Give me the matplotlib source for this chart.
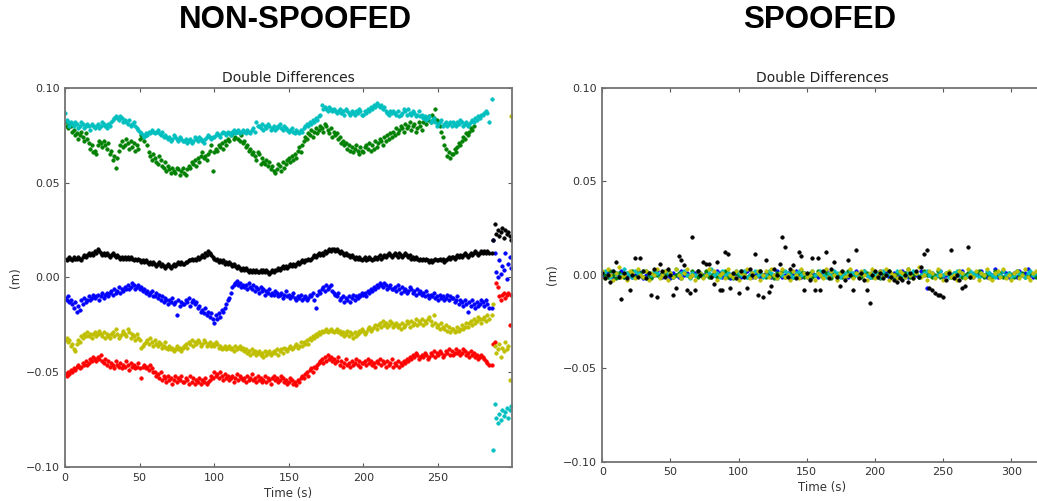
import numpy as np
import matplotlib
matplotlib.use("Agg")
import matplotlib.pyplot as plt

nan = np.nan

# ============================================================
# Non-spoofed double differences (mm), one value per second up to 284 s,
# then the points after the jump at ~286 s
# ============================================================
t_main = np.arange(0, 285)
t_tail = np.arange(286, 300)

ns_blue = [-11, -12, -10, -13, -12, -14, -16, -13, -18, -15, -17, -12, -14, -11, -13, -12, -10, -12, -11, -9,
           -11, -10, -9, -12, -10, -8, -11, -9, -8, -10, -8, -7, -9, -6, -8, -7, -5, -8, -6, -7,
           -5, -6, -4, -6, -5, -3, -4, -6, -5, -4, -6, -5, -7, -6, -8, -7, -9, -8, -7, -10,
           -10, -8, -11, -9, -12, -10, -13, -11, -12, -14, -12, -13, -11, -14, -13, -20, -12, -15, -13, -14,
           -14, -12, -13, -11, -15, -13, -12, -14, -13, -16, -15, -18, -17, -19, -16, -20, -18, -21, -19, -22,
           -24, -20, -22, -19, -21, -17, -18, -16, -14, -12, -11, -8, -5, -4, -3, -2, -4, -3, -5, -4,
           -5, -4, -6, -3, -5, -6, -4, -7, -5, -6, -8, -5, -7, -6, -9, -7, -8, -6, -9, -8,
           -9, -7, -8, -10, -9, -8, -11, -9, -7, -10, -9, -11, -10, -8, -11, -12, -10, -11, -9, -12,
           -11, -10, -12, -11, -9, -10, -8, -12, -16, -9, -7, -8, -6, -5, -7, -4, -6, -5, -4, -7,
           -8, -9, -10, -8, -12, -11, -10, -13, -11, -12, -10, -13, -11, -9, -12, -10, -11, -9, -10, -8,
           -9, -8, -10, -7, -8, -6, -7, -5, -6, -4, -5, -3, -4, -5, -3, -4, -6, -5, -4, -6,
           -6, -5, -7, -4, -6, -8, -5, -7, -6, -8, -7, -5, -6, -8, -7, -9, -6, -8, -7, -9,
           -8, -10, -7, -9, -11, -9, -10, -8, -11, -10, -12, -9, -11, -10, -12, -11, -9, -12, -10, -11,
           -11, -13, -12, -10, -14, -12, -13, -15, -12, -14, -18, -13, -15, -12, -14, -16, -13, -15, -14, -12,
           -13, -15, -12, -14, -16]
ns_blue_tail = [-16, 20, 13, 3, 0, 9, 2, 6, 4, 13, -1, 7, 11, 5]

ns_green = [82, 80, 79, 81, 80, 77, 78, 75, 76, 73, 75, 77, 74, 72, 76, 73, 71, 68, 70, 66,
            67, 65, 70, 72, 71, 69, 72, 70, 68, 71, 65, 67, 62, 64, 58, 63, 67, 70, 72, 69,
            70, 73, 71, 68, 72, 69, 71, 67, 70, 68, 73, 75, 74, 72, 75, 70, 66, 64, 62, 65,
            63, 61, 60, 64, 62, 59, 58, 61, 56, 59, 57, 55, 58, 56, 55, 58, 57, 54, 56, 58,
            55, 54, 57, 59, 58, 61, 60, 62, 59, 63, 61, 64, 66, 63, 64, 62, 65, 67, 70, 56,
            66, 68, 67, 70, 69, 71, 68, 72, 70, 73, 72, 75, 76, 73, 74, 77, 73, 72, 75, 71,
            72, 69, 70, 67, 68, 65, 66, 64, 62, 66, 65, 60, 63, 61, 60, 62, 59, 61, 57, 59,
            56, 55, 57, 60, 59, 56, 61, 58, 60, 62, 63, 61, 64, 62, 65, 63, 67, 69, 66, 70,
            72, 74, 73, 76, 75, 78, 74, 77, 79, 76, 78, 80, 79, 77, 81, 80, 78, 76, 79, 74,
            77, 75, 76, 73, 74, 71, 72, 70, 71, 68, 70, 67, 69, 66, 68, 70, 67, 65, 69, 67,
            66, 69, 70, 68, 71, 67, 70, 68, 72, 69, 71, 73, 72, 70, 74, 72, 75, 73, 76, 74,
            77, 75, 79, 76, 78, 80, 79, 77, 81, 79, 80, 82, 78, 80, 81, 77, 79, 82, 80, 78,
            82, 84, 81, 83, 85, 82, 86, 84, 89, 83, 82, 80, 77, 74, 70, 68, 64, 66, 63, 65,
            65, 68, 66, 69, 71, 70, 72, 74, 73, 76, 75, 77, 79, 78, 80, nan, nan, nan, nan, nan,
            nan, nan, nan, nan, nan]
ns_green_tail = [nan] * 14

ns_red = [-51, -52, -50, -51, -49, -50, -48, -49, -47, -46, -48, -47, -45, -46, -44, -46, -45, -43, -44, -42,
          -43, -44, -42, -43, -41, -44, -45, -43, -46, -44, -47, -45, -46, -48, -44, -46, -47, -45, -48, -46,
          -47, -44, -46, -49, -45, -47, -46, -48, -47, -45, -48, -53, -47, -46, -48, -47, -49, -46, -48, -50,
          -50, -52, -51, -53, -50, -54, -52, -53, -55, -52, -54, -53, -56, -54, -52, -55, -53, -54, -52, -55,
          -55, -53, -54, -56, -52, -55, -53, -56, -54, -55, -53, -56, -54, -55, -53, -56, -55, -54, -52, -53,
          -50, -52, -51, -53, -50, -52, -54, -51, -53, -52, -54, -53, -52, -55, -53, -51, -54, -52, -53, -54,
          -53, -55, -52, -54, -53, -51, -54, -53, -55, -52, -54, -53, -55, -54, -52, -55, -53, -54, -56, -53,
          -52, -54, -53, -55, -54, -52, -53, -55, -54, -56, -55, -53, -54, -56, -55, -57, -54, -55, -53, -52,
          -53, -51, -50, -52, -49, -48, -50, -47, -48, -46, -45, -44, -43, -45, -42, -44, -41, -43, -42, -44,
          -43, -45, -44, -42, -46, -44, -47, -45, -43, -46, -45, -47, -44, -46, -45, -43, -46, -44, -47, -45,
          -45, -44, -46, -43, -45, -44, -46, -45, -47, -44, -45, -43, -46, -44, -45, -47, -44, -46, -45, -43,
          -47, -45, -46, -44, -47, -45, -46, -44, -45, -43, -44, -42, -43, -41, -42, -40, -41, -43, -42, -41,
          -42, -40, -41, -43, -42, -40, -41, -39, -42, -40, -41, -39, -40, -42, -41, -39, -40, -38, -41, -39,
          -41, -40, -38, -40, -39, -41, -40, -38, -39, -41, -40, -42, -39, -41, -40, -42, -41, -43, -42, -41,
          -42, -43, -44, -45, -46]
ns_red_tail = [-46, -35, -34, -3, -5, -10, -12, -9, -8, -11, -9, -8, -25, -9]

ns_cyan = [87, 83, 82, 80, 82, 81, 80, 82, 81, 79, 80, 82, 81, 79, 80, 81, 80, 78, 81, 80,
           79, 80, 81, 79, 80, 82, 81, 80, 79, 81, 80, 82, 83, 84, 85, 84, 83, 85, 84, 82,
           83, 82, 81, 83, 80, 81, 82, 80, 79, 78, 77, 76, 75, 74, 76, 75, 77, 76, 78, 77,
           76, 77, 78, 76, 75, 77, 74, 75, 74, 73, 74, 72, 73, 75, 74, 73, 72, 74, 73, 72,
           72, 73, 71, 72, 73, 71, 72, 74, 73, 72, 74, 73, 72, 71, 73, 74, 75, 74, 73, 74,
           74, 75, 76, 75, 74, 76, 77, 76, 75, 77, 76, 75, 77, 78, 76, 77, 78, 76, 77, 78,
           77, 76, 78, 77, 76, 78, 79, 77, 82, 80, 80, 79, 81, 78, 80, 79, 81, 80, 78, 79,
           80, 78, 79, 80, 81, 79, 78, 80, 79, 78, 77, 78, 79, 77, 76, 78, 77, 76, 78, 77,
           79, 80, 81, 80, 82, 81, 83, 82, 84, 83, 85, 86, 91, 89, 90, 89, 88, 90, 89, 88,
           89, 88, 87, 88, 89, 87, 88, 86, 89, 88, 87, 86, 88, 87, 86, 88, 87, 89, 88, 86,
           86, 88, 87, 89, 88, 90, 89, 91, 90, 92, 91, 90, 91, 89, 90, 88, 87, 86, 88, 87,
           88, 87, 86, 88, 85, 86, 87, 89, 88, 86, 89, 87, 86, 88, 87, 85, 86, 88, 85, 86,
           84, 85, 83, 84, 85, 82, 83, 84, 82, 80, 81, 82, 83, 80, 81, 82, 80, 81, 82, 80,
           82, 81, 80, 82, 81, 83, 82, 80, 81, 82, 80, 81, 82, 83, 82, 84, 83, 85, 84, 86,
           86, 87, 88, 87, 82]
ns_cyan_tail = [94, -91, -67, -74, -77, -72, -75, -70, -73, -71, -69, -74, -70, -68]

ns_yellow = [-33, -32, -34, -33, -36, -35, -38, -39, -35, -33, -34, -31, -32, -30, -31, -29, -31, -30, -32, -30,
             -29, -31, -30, -28, -30, -31, -29, -32, -30, -31, -32, -30, -29, -31, -27, -30, -32, -31, -30, -28,
             -30, -31, -27, -29, -32, -30, -31, -33, -30, -32, -33, -37, -36, -35, -34, -33, -35, -32, -34, -36,
             -33, -35, -36, -34, -35, -37, -36, -34, -37, -38, -36, -38, -37, -39, -38, -36, -38, -37, -39, -37,
             -36, -35, -37, -34, -35, -33, -36, -34, -35, -33, -34, -36, -35, -33, -34, -36, -35, -34, -36, -35,
             -36, -34, -35, -37, -36, -38, -37, -36, -38, -37, -36, -38, -37, -39, -36, -38, -37, -36, -38, -37,
             -39, -38, -40, -39, -41, -38, -40, -39, -41, -40, -39, -41, -40, -42, -39, -41, -40, -39, -41, -40,
             -39, -40, -38, -41, -39, -38, -40, -37, -38, -39, -37, -36, -38, -37, -36, -35, -37, -36, -34, -36,
             -34, -35, -33, -35, -32, -33, -31, -32, -30, -31, -29, -30, -28, -29, -28, -27, -29, -28, -27, -28,
             -29, -28, -27, -29, -28, -30, -29, -31, -30, -28, -31, -29, -30, -32, -29, -31, -30, -28, -29, -27,
             -28, -30, -29, -27, -26, -28, -27, -26, -25, -27, -25, -24, -26, -23, -25, -24, -26, -25, -23, -24,
             -26, -25, -24, -26, -25, -27, -24, -26, -25, -23, -24, -26, -23, -25, -24, -22, -25, -23, -24, -22,
             -25, -23, -24, -22, -21, -23, -25, -20, -24, -26, -25, -27, -24, -26, -27, -25, -28, -26, -29, -27,
             -27, -29, -28, -26, -28, -27, -25, -27, -26, -24, -26, -24, -23, -25, -22, -24, -23, -21, -22, -24,
             -22, -21, -23, -20, -22]
ns_yellow_tail = [-20, -14, -36, -40, -38, -35, -42, -37, -39, -34, -38, -36, -54, 85]

ns_black = [10, 9, 10, 11, 10, 9, 11, 10, 10, 11, 10, 9, 11, 12, 11, 12, 13, 12, 13, 12,
            14, 13, 15, 14, 13, 12, 13, 12, 13, 12, 11, 12, 13, 12, 11, 12, 11, 10, 11, 10,
            11, 10, 11, 10, 11, 10, 9, 10, 9, 10, 9, 8, 9, 8, 9, 8, 7, 8, 7, 8,
            7, 6, 7, 8, 6, 7, 6, 5, 6, 7, 6, 5, 6, 7, 6, 7, 8, 7, 8, 7,
            7, 8, 8, 9, 9, 10, 9, 10, 9, 11, 10, 11, 12, 11, 13, 12, 14, 13, 12, 11,
            10, 9, 10, 8, 9, 8, 9, 7, 8, 7, 8, 7, 6, 7, 6, 5, 6, 5, 4, 5,
            4, 5, 4, 3, 4, 3, 4, 3, 4, 3, 3, 4, 3, 4, 3, 4, 3, 2, 3, 4,
            3, 4, 4, 5, 4, 5, 6, 5, 6, 5, 6, 7, 6, 7, 6, 7, 8, 7, 8, 9,
            8, 9, 9, 10, 9, 10, 11, 12, 11, 12, 13, 12, 13, 12, 14, 13, 14, 15, 14, 15,
            15, 14, 15, 14, 13, 14, 13, 12, 13, 12, 12, 11, 12, 11, 10, 11, 10, 11, 10, 9,
            10, 11, 9, 10, 11, 10, 9, 10, 11, 10, 11, 12, 10, 11, 12, 11, 12, 13, 12, 11,
            12, 13, 12, 11, 13, 12, 11, 12, 13, 12, 11, 12, 10, 11, 10, 11, 10, 9, 10, 9,
            10, 9, 10, 9, 8, 9, 8, 9, 10, 9, 9, 10, 9, 10, 8, 9, 10, 11, 10, 11,
            11, 10, 11, 12, 11, 12, 11, 12, 13, 12, 11, 12, 13, 12, 13, 14, 13, 12, 13, 14,
            13, 14, 13, 14, 13]
ns_black_tail = [13, 20, 28, 23, 25, 22, 24, 26, 21, 25, 23, 24, 22, 20]

# ============================================================
# Spoofed double differences (mm), one value every 2 s
# ============================================================
t_sp = np.arange(0, 323, 2)
t_sp_black = np.arange(0, 271, 2)

sp_blue = [0, -1, 1, 0, -2, 1, 0, 2, -1, 0,
           1, -1, 0, 2, 1, -2, 0, 1, -1, 0,
           2, 0, -1, 1, 0, -2, 1, 0, -1, 2,
           0, 1, -1, 0, 1, 2, 0, -1, 1, 0,
           -1, 0, 2, 1, -1, 0, 1, -2, 0, 1,
           0, -1, 1, 2, 0, -1, 0, 1, -1, 0,
           1, 0, -1, 0, 2, 1, -1, 0, 1, -1,
           0, 2, 0, -1, 1, 0, -2, 1, 0, -1,
           1, 0, 2, -1, 0, 1, -1, 0, 1, 0,
           -1, 1, 0, 2, -1, 0, 1, 0, -1, 1,
           0, -1, 2, 0, 1, -1, 0, 1, -1, 0,
           2, 1, -1, 0, 1, 0, -1, 2, 0, -7,
           0, 1, -1, 0, 2, -1, 0, 1, 0, -1,
           1, 0, 2, -1, 1, 0, -1, 1, 0, 2,
           0, -1, 1, 0, 3, -1, 0, 2, 1, -1,
           0, 1, -1, 2, 0, 1, 3, 0, -1, 1,
           0, 1]

sp_green = [1, 0, -1, 2, 0, -2, 1, 0, -1, 1,
            0, 2, -1, 0, 1, -1, 2, 0, -2, 1,
            0, -1, 1, 0, 2, 1, -1, 0, 1, -2,
            1, 0, -1, 2, 0, -1, 1, 0, 2, -1,
            0, 1, -1, 0, 1, 2, -1, 0, -2, 1,
            0, 2, 1, -1, 0, 1, -1, 0, 2, 0,
            -1, 1, 0, -2, 1, 0, 2, -1, 0, 1,
            -1, 0, 1, 2, -1, 0, 1, -1, 0, 2,
            0, -1, 1, 0, -2, 1, 0, 1, -1, 0,
            2, 0, -1, 1, 0, -1, 2, 1, 0, -1,
            1, 0, -2, 1, 0, 2, -1, 0, 1, -1,
            0, 1, 3, -1, 0, 1, -1, 0, 2, 0,
            1, -1, 0, 2, -1, 0, 1, 0, -1, 1,
            0, 2, -1, 0, 1, -1, 0, 1, 2, 0,
            -1, 1, 0, -1, 2, 0, 1, -1, 0, 1,
            0, -1, 2, 0, 1, -1, 0, 1, 0, -1,
            1, 0]

sp_cyan = [1, 2, 0, -1, 2, 1, -1, 0, 3, 1,
           0, -1, 2, 1, 0, 2, -2, 1, 0, 2,
           1, -1, 0, 2, 1, 0, -1, 3, 0, 1,
           2, 0, -2, 1, 0, 2, 1, -1, 0, 1,
           3, 0, 1, -1, 2, 0, 1, 0, -1, 2,
           1, 0, 2, -1, 0, 1, 2, 0, 1, -1,
           0, 2, 1, 0, -2, 1, 0, 2, 1, 0,
           -1, 1, 2, 0, 1, -1, 0, 2, 0, 1,
           2, 0, -1, 1, 0, 2, 1, -1, 0, 1,
           0, 2, 1, 0, -1, 1, 2, 0, -1, 1,
           0, 1, -1, 2, 0, 1, 0, -1, 2, 1,
           0, -1, 1, 0, 2, 1, -1, 0, 1, 2,
           0, 1, -1, 0, 2, 0, 1, -1, 0, 1,
           2, 0, 1, -1, 0, 2, 1, 0, -1, 1,
           0, 2, 1, 0, -1, 1, 0, 2, 0, 1,
           -1, 0, 2, 1, 0, -1, 1, 2, 0, 1,
           0, 1]

sp_yellow = [2, -2, 3, 0, -3, 1, 4, -1, 0, -3,
             2, 1, -2, 3, 0, -1, 2, -3, 1, 0,
             3, -2, 0, 2, -3, 1, -1, 3, 0, -2,
             1, 3, -1, 0, -3, 2, 1, -2, 0, 3,
             -1, 2, -3, 0, 1, -2, 3, 0, -1, 2,
             -3, 1, 0, 3, -2, 1, -1, 2, -3, 0,
             2, -1, 3, 0, -2, 1, 3, -1, 0, -3,
             2, 0, -2, 3, 1, -1, 0, 2, -3, 1,
             0, -2, 3, -1, 2, 0, -3, 1, 2, -1,
             0, 3, -2, 1, -1, 2, 0, -3, 1, 3,
             -2, 0, 2, -1, 3, -3, 1, 0, -2, 2,
             1, -1, 3, 0, -2, 1, 4, -1, 0, -3,
             2, 1, -2, 3, 0, -3, 1, 2, -1, 0,
             -3, 2, 1, -2, 3, 0, -1, 2, -3, 1,
             0, 3, -2, -3, 1, 2, -1, 3, -2, 0,
             -3, 1, 2, -2, 0, 3, -1, -3, 1, 2,
             -2, 0]

sp_black = [1, -2, 0, -4, 2, 7, -1, -13, 1, -2,
            -8, 0, 9, -1, 9, 2, -2, 1, -11, 3,
            -12, 6, 2, -1, 3, 0, -11, -7, 10, 8,
            5, -8, -10, 20, -8, 2, 0, 7, 6, 6,
            -1, -5, 7, -8, -8, 12, 11, -7, 1, -2,
            -10, 2, -1, -7, 3, 0, 11, -11, 2, -12,
            8, -9, -6, 3, 0, 6, 20, 15, -1, 3,
            5, -2, 12, 10, -8, 1, -3, 9, -8, 9,
            -8, 2, 12, -2, 3, 7, -1, -6, 2, -3,
            8, 0, -8, 13, -2, 1, -3, -8, -15, 0,
            2, -1, 1, -2, 0, 2, -1, -3, -4, -2,
            -3, 0, -4, 1, -2, 2, -1, 4, 11, 13,
            -7, -8, -10, -11, -11, -12, -3, 1, 13, -2,
            0, -3, -7, -6, 15, -1]

# classic matplotlib single-letter colours
C_BLUE = (0, 0, 1)
C_GREEN = (0, 0.5, 0)
C_RED = (1, 0, 0)
C_CYAN = (0, 0.75, 0.75)
C_YELLOW = (0.75, 0.75, 0)
C_BLACK = (0, 0, 0)


def dots(ax, t, mm, color):
    ax.plot(t, np.array(mm, dtype=float) / 1000.0, '.', color=color,
            ms=5, mew=0.5, mec=color)


def style_axes(ax, xmax):
    ax.set_xlim(0, xmax)
    ax.set_ylim(-0.1, 0.1)
    ax.set_yticks([-0.10, -0.05, 0.0, 0.05, 0.10])
    ax.tick_params(direction='in', top=True, right=True, length=3, width=0.8,
                   color='0.35', labelsize=8, labelcolor='#333333', pad=4)
    for spine in ax.spines.values():
        spine.set_color('0.45')
        spine.set_linewidth(1.3)
    ax.set_title('Double Differences', fontsize=10, color='#222222', pad=4)
    ax.set_xlabel('Time (s)', fontsize=8.5, color='#333333')
    ax.set_ylabel('(m)', fontsize=8.5, color='#333333')
    ax.xaxis.set_label_coords(0.5, -0.052)
    ax.yaxis.set_label_coords(-0.097, 0.5)


fig = plt.figure(figsize=(10.37, 5.01), dpi=100)
fig.patch.set_facecolor('white')

# ============================================================
# Left: non-spoofed
# ============================================================
ax1 = fig.add_axes([0.0627, 0.0679, 0.4310, 0.7565])
for main, tail, col in [(ns_blue, ns_blue_tail, C_BLUE),
                        (ns_green, ns_green_tail, C_GREEN),
                        (ns_red, ns_red_tail, C_RED),
                        (ns_cyan, ns_cyan_tail, C_CYAN),
                        (ns_yellow, ns_yellow_tail, C_YELLOW),
                        (ns_black, ns_black_tail, C_BLACK)]:
    dots(ax1, np.concatenate([t_main, t_tail]), list(main) + list(tail), col)
style_axes(ax1, 299.5)

# ============================================================
# Right: spoofed (axes runs past the right edge of the picture)
# ============================================================
ax2 = fig.add_axes([0.5808, 0.0784, 0.4240, 0.7465])
for vals, col in [(sp_blue, C_BLUE), (sp_green, C_GREEN),
                  (sp_cyan, C_CYAN), (sp_yellow, C_YELLOW)]:
    dots(ax2, t_sp, vals, col)
dots(ax2, t_sp_black, sp_black, C_BLACK)
style_axes(ax2, 322.5)
ax2.yaxis.set_label_coords(-0.098, 0.5)

fig.text(295 / 1037, 1 - 20 / 501, 'NON-SPOOFED', ha='center', va='center',
         fontsize=22.5, fontweight='bold', family='Liberation Sans')
fig.text(820 / 1037, 1 - 20 / 501, 'SPOOFED', ha='center', va='center',
         fontsize=22.5, fontweight='bold', family='Liberation Sans')

fig.savefig('out.png', dpi=100, facecolor='white')
